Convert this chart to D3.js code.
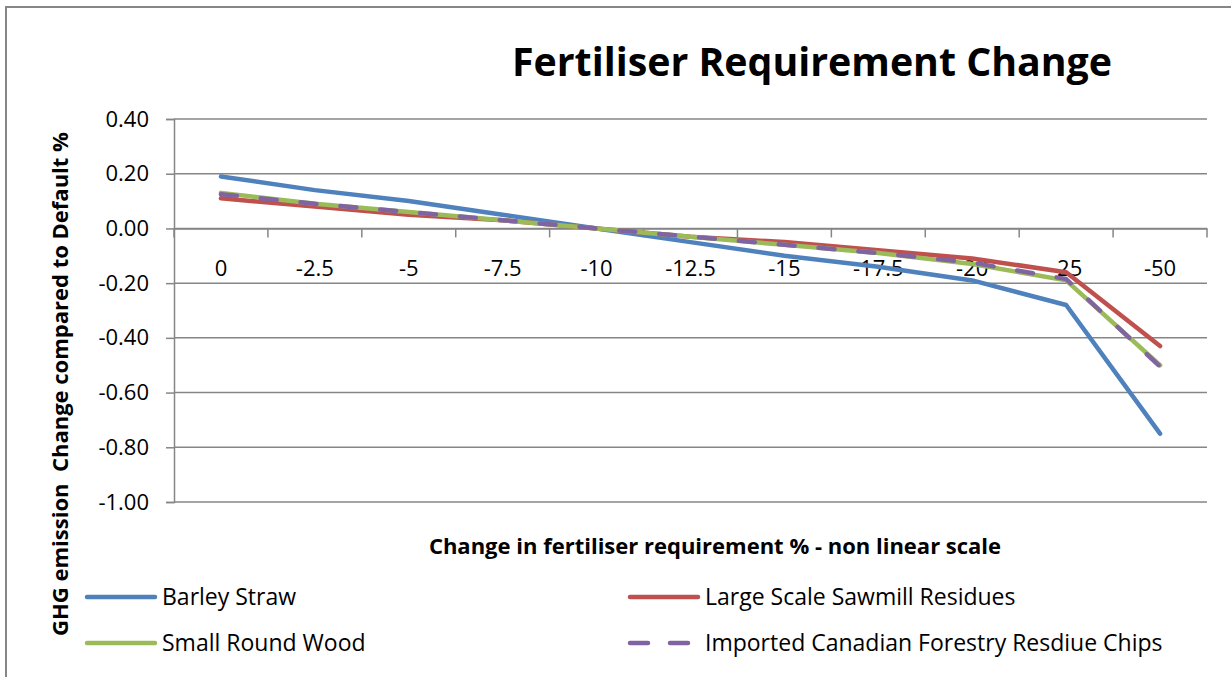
<!DOCTYPE html>
<html>
<head>
<meta charset="utf-8">
<script src="https://cdn.jsdelivr.net/npm/d3@7"></script>
<style>
  html, body { margin: 0; padding: 0; background: #fff; }
  svg { display: block; font-family: "Open Sans", Lato, sans-serif; }
</style>
</head>
<body>
<div id="chart"></div>
<script>
// Categories on the (non linear) x axis
const categories = ['0', '-2.5', '-5', '-7.5', '-10', '-12.5', '-15', '-17.5', '-20', '-25', '-50'];
const yTicks = [0.4, 0.2, 0, -0.2, -0.4, -0.6, -0.8, -1.0];

// Series values
const barleyStraw = [0.19, 0.14, 0.10, 0.05, 0.00, -0.05, -0.10, -0.14, -0.19, -0.28, -0.75];
const sawmillResidues = [0.11, 0.08, 0.05, 0.03, 0.00, -0.03, -0.05, -0.08, -0.11, -0.16, -0.43];
const smallRoundWood = [0.13, 0.09, 0.06, 0.03, 0.00, -0.03, -0.06, -0.09, -0.13, -0.19, -0.50];
const canadianChips = [0.125, 0.09, 0.06, 0.03, 0.00, -0.03, -0.06, -0.09, -0.125, -0.185, -0.505];

const seriesNames = ['Barley Straw', 'Large Scale Sawmill Residues', 'Small Round Wood', 'Imported Canadian Forestry Resdiue Chips'];
const seriesValues = [barleyStraw, sawmillResidues, smallRoundWood, canadianChips];
const seriesColors = ['#4F81BD', '#C0504D', '#9BBB59', '#8064A2'];
const seriesDash = [null, null, null, '16,24'];

const W = 1231, H = 677;
const plot = { left: 174, right: 1207, top: 119, bottom: 502 };
const FONT = '"Open Sans", Lato, sans-serif';

const svg = d3.select('#chart').append('svg')
  .attr('width', W).attr('height', H);

// chart border
svg.append('rect')
  .attr('x', 6).attr('y', 7)
  .attr('width', W + 10).attr('height', H + 10)
  .attr('fill', 'none').attr('stroke', '#868686').attr('stroke-width', 2);

const x = d3.scaleBand().domain(categories).range([plot.left, plot.right]);
const y = d3.scaleLinear().domain([-1, 0.4]).range([plot.bottom, plot.top]);

// gridlines
svg.append('g')
  .selectAll('line')
  .data(yTicks)
  .join('line')
  .attr('x1', plot.left).attr('x2', plot.right)
  .attr('y1', d => y(d)).attr('y2', d => y(d))
  .attr('stroke', '#868686').attr('stroke-width', 1.5);

// y axis
const yAxis = svg.append('g')
  .attr('transform', `translate(${plot.left},0)`)
  .call(d3.axisLeft(y).tickValues(yTicks).tickSize(8).tickPadding(17))
  .attr('font-family', FONT).attr('font-size', 22);
yAxis.select('.domain').attr('stroke', '#868686').attr('stroke-width', 1.5);
yAxis.selectAll('.tick line').attr('stroke', '#868686').attr('stroke-width', 1.5);
yAxis.selectAll('.tick text')
  .attr('fill', '#000')
  .text(d => d3.format('.2f')(d).replace('−', '-'));

// x axis at zero
const xAxisY = y(0);
const xAxis = svg.append('g')
  .attr('transform', `translate(0,${xAxisY})`)
  .call(d3.axisBottom(x).tickSize(0).tickPadding(32))
  .attr('font-family', FONT).attr('font-size', 22);
xAxis.select('.domain').attr('stroke', '#868686').attr('stroke-width', 1.5);
xAxis.selectAll('.tick text').attr('fill', '#000');

// category boundary ticks
const boundaries = categories.map(c => x(c)).concat([x(categories[categories.length - 1]) + x.bandwidth()]);
svg.append('g')
  .selectAll('line')
  .data(boundaries)
  .join('line')
  .attr('x1', d => d).attr('x2', d => d)
  .attr('y1', xAxisY).attr('y2', xAxisY + 9)
  .attr('stroke', '#868686').attr('stroke-width', 1.5);

// series lines
const line = d3.line()
  .x((d, i) => x(categories[i]) + x.bandwidth() / 2)
  .y(d => y(d));

seriesValues.forEach((vals, i) => {
  svg.append('path')
    .datum(vals)
    .attr('fill', 'none')
    .attr('stroke', seriesColors[i])
    .attr('stroke-width', 4.5)
    .attr('stroke-linejoin', 'round')
    .attr('stroke-linecap', 'round')
    .attr('stroke-dasharray', seriesDash[i])
    .attr('d', line);
});

// title
svg.append('text')
  .attr('x', 812).attr('y', 76)
  .attr('text-anchor', 'middle')
  .attr('font-size', 40).attr('font-weight', 700)
  .attr('textLength', 600).attr('lengthAdjust', 'spacingAndGlyphs')
  .text('Fertiliser Requirement Change');

// axis titles
svg.append('text')
  .attr('x', 715).attr('y', 554)
  .attr('text-anchor', 'middle')
  .attr('font-size', 22).attr('font-weight', 700)
  .text('Change in fertiliser requirement % - non linear scale');

svg.append('text')
  .attr('transform', 'translate(68,384) rotate(-90)')
  .attr('text-anchor', 'middle')
  .attr('font-size', 22).attr('font-weight', 700)
  .style('white-space', 'pre')
  .text('GHG emission  Change compared to Default %');

// legend
const legendPos = [[85, 597], [628, 597], [85, 643], [628, 643]];
seriesNames.forEach((name, si) => {
  const [lx, ly] = legendPos[si];
  const g = svg.append('g').attr('transform', `translate(${lx},${ly})`);
  g.append('line')
    .attr('x1', 2).attr('x2', 70)
    .attr('y1', 0).attr('y2', 0)
    .attr('stroke', seriesColors[si]).attr('stroke-width', 4.5)
    .attr('stroke-linecap', 'round')
    .attr('stroke-dasharray', seriesDash[si] ? '18,22' : null);
  g.append('text')
    .attr('x', 77).attr('y', 8)
    .attr('font-size', 23).attr('fill', '#000')
    .text(name);
});
</script>
</body>
</html>
